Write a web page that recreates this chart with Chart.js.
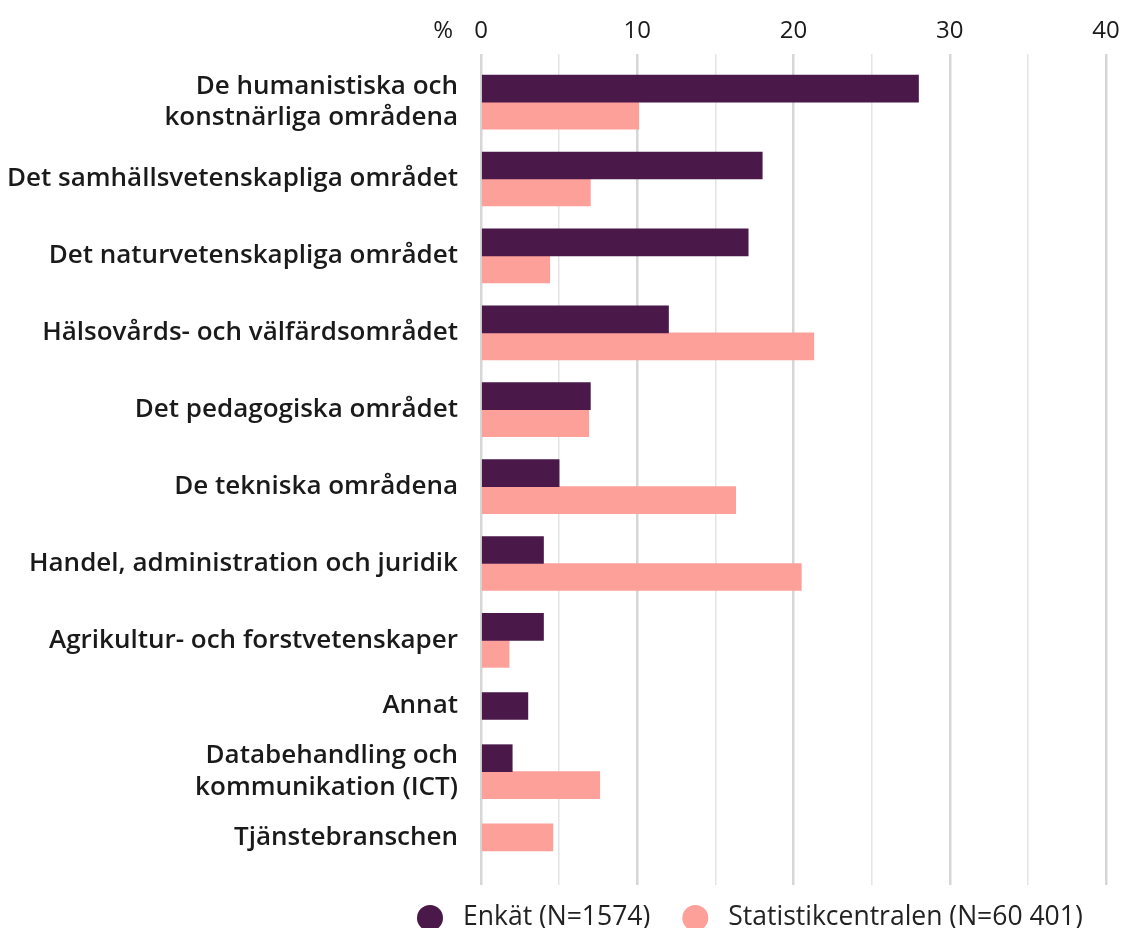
<!DOCTYPE html>
<html lang="sv">
<head>
<meta charset="utf-8">
<title>Utbildningsområde</title>
<script src="https://cdn.jsdelivr.net/npm/chart.js@4/dist/chart.umd.min.js"></script>
<style>
  html, body { margin: 0; padding: 0; background: #fff; }
  canvas { display: block; }
</style>
</head>
<body>
<canvas id="eduChart" width="1124" height="928"></canvas>
<script>
// Categories (multi-line labels as arrays)
const categories = [
    ['De humanistiska och', 'konstnärliga områdena'],
    'Det samhällsvetenskapliga området',
    'Det naturvetenskapliga området',
    'Hälsovårds- och välfärdsområdet',
    'Det pedagogiska området',
    'De tekniska områdena',
    'Handel, administration och juridik',
    'Agrikultur- och forstvetenskaper',
    'Annat',
    ['Databehandling och', 'kommunikation (ICT)'],
    'Tjänstebranschen'
];

// Shares in percent (null = no bar)
const enkatValues = [28.0, 18.0, 17.1, 12.0, 7.0, 5.0, 4.0, 4.0, 3.0, 2.0, null];
const statValues = [10.1, 7.0, 4.4, 21.3, 6.9, 16.3, 20.5, 1.8, null, 7.6, 4.6];

const seriesNames = ['Enkät (N=1574)', 'Statistikcentralen (N=60 401)'];
const xTickValues = [0, 10, 20, 30, 40];

const COLORS = ['#4a194a', '#fea09a'];
const TEXT = '#1a1a1a';
const FONT = '"Open Sans", "Noto Sans", sans-serif';

// Category slots shrink when a category only has one bar
const SLOT_PER_BAR = 1;
const SLOT_PAD = 1.42;
const positions = [];
let cursor = 0;
categories.forEach((c, i) => {
    const bars = [enkatValues[i], statValues[i]].filter(v => v !== null).length;
    const slot = bars * SLOT_PER_BAR + SLOT_PAD;
    positions.push(cursor + slot / 2);
    cursor += slot;
});

function toPoints(values) {
    return values.map((v, i) => ({ x: v, y: positions[i] }));
}

// "%" in front of the top axis
const percentLabel = {
    id: 'percentLabel',
    afterDraw(chart) {
        const scale = chart.scales.x;
        const ctx = chart.ctx;
        ctx.save();
        ctx.font = '24px ' + FONT;
        ctx.fillStyle = TEXT;
        ctx.textAlign = 'right';
        ctx.textBaseline = 'middle';
        ctx.fillText('%', chart.chartArea.left - 28, scale.bottom - 8 - 14.4);
        ctx.restore();
    }
};

// Legend with round markers under the plot
const dotLegend = {
    id: 'dotLegend',
    afterDraw(chart) {
        const ctx = chart.ctx;
        const radius = 13;
        let x = chart.chartArea.left - 64;
        const y = 918;
        ctx.save();
        ctx.font = '26.5px ' + FONT;
        ctx.textBaseline = 'alphabetic';
        chart.data.datasets.forEach(ds => {
            ctx.fillStyle = ds.backgroundColor;
            ctx.beginPath();
            ctx.arc(x + radius, y, radius, 0, Math.PI * 2);
            ctx.fill();
            ctx.fillStyle = '#222';
            ctx.fillText(ds.label, x + radius + 33, 925);
            x += radius + 33 + ctx.measureText(ds.label).width + 32;
        });
        ctx.restore();
    }
};

const ctx = document.getElementById('eduChart').getContext('2d');
new Chart(ctx, {
    type: 'bar',
    data: {
        datasets: [
            { label: seriesNames[0], data: toPoints(enkatValues), backgroundColor: COLORS[0] },
            { label: seriesNames[1], data: toPoints(statValues), backgroundColor: COLORS[1] }
        ]
    },
    options: {
        indexAxis: 'y',
        responsive: false,
        animation: false,
        devicePixelRatio: 1,
        skipNull: true,
        barThickness: 27,
        layout: { padding: { top: 0, right: 18, bottom: 43, left: 0 } },
        plugins: {
            legend: { display: false },
            tooltip: { enabled: false }
        },
        scales: {
            x: {
                type: 'linear',
                position: 'top',
                min: 0,
                max: 40,
                afterFit: scale => {
                    scale.height = 54;
                    scale.paddingLeft = 0;
                    scale.paddingRight = 0;
                },
                border: { display: false },
                grid: {
                    drawTicks: false,
                    color: c => (c.tick && c.tick.value % 10 === 0) ? '#d6d6d6' : '#e4e4e4',
                    lineWidth: c => (c.tick && c.tick.value % 10 === 0) ? 2.5 : 1.5
                },
                ticks: {
                    stepSize: 5,
                    autoSkip: false,
                    maxRotation: 0,
                    padding: 8,
                    color: TEXT,
                    font: { family: FONT, size: 24 },
                    callback: value => xTickValues.includes(value) ? String(value) : ''
                }
            },
            y: {
                type: 'linear',
                reverse: true,
                offset: false,
                min: -0.43,
                max: cursor + 0.91,
                afterFit: scale => {
                    scale.width = 481;
                    scale.paddingTop = 0;
                    scale.paddingBottom = 0;
                },
                afterBuildTicks: scale => {
                    scale.ticks = positions.map(p => ({ value: p }));
                },
                border: { display: false },
                grid: { display: false, drawTicks: false, offset: false },
                ticks: {
                    autoSkip: false,
                    padding: 23,
                    color: TEXT,
                    font: { family: FONT, size: 26, weight: '600' },
                    callback: (value, index) => categories[index]
                }
            }
        }
    },
    plugins: [percentLabel, dotLegend]
});
</script>
</body>
</html>
